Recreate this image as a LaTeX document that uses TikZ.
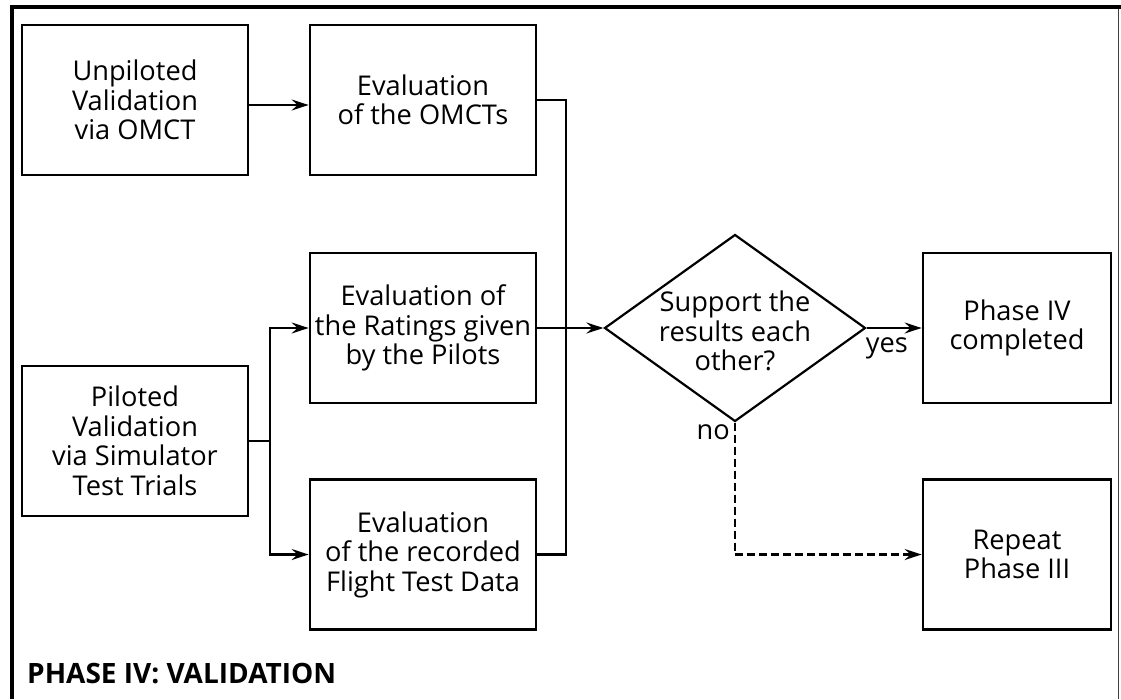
\documentclass[tikz,border=0pt]{standalone}
\usepackage{fontspec}
\setmainfont{Open Sans}
\usetikzlibrary{arrows.meta,shapes.geometric,calc}
\begin{document}
\begin{tikzpicture}[x=1pt,y=-1pt,
  txt/.style={font=\fontsize{27.2}{29.5}\selectfont},
  box/.style={draw,line width=2.8pt,minimum width=226pt,minimum height=150pt,
    inner sep=0pt,align=center,txt},
  rbox/.style={box,minimum width=188pt},
  decision/.style={draw,shape=diamond,line width=2.2pt,minimum width=261pt,
    minimum height=187pt,inner sep=0pt},
  conn/.style={line width=2.3pt,line join=miter},
  arr/.style={conn,-{Stealth[length=17pt,width=11pt,inset=6pt]}},
  lbl/.style={txt,inner sep=0pt}]
  % page and frame
  \useasboundingbox (0,0) rectangle (1121,699);
  \fill[white] (0,0) rectangle (1121,699);
  \draw[line width=4pt,line join=miter] (11.5,699) -- (11.5,7) -- (1121,7);
  \draw[line width=1.2pt,black!75] (1118.5,9) -- (1118.5,699);

  % process boxes
  \node[box] (A) at (135,100) {Unpiloted\\Validation\\via OMCT};
  \node[box] (B) at (423,100) {Evaluation\\of the OMCTs};
  \node[box] (C) at (423,328) {Evaluation of\\the Ratings given\\by the Pilots};
  \node[box] (D) at (135,441) {Piloted\\Validation\\via Simulator\\Test Trials};
  \node[box] (E) at (423,554.5) {Evaluation\\of the recorded\\Flight Test Data};
  \node[rbox] (F) at (1017,328) {Phase IV\\completed};
  \node[rbox] (G) at (1017,554.5) {Repeat\\Phase III};

  % decision
  \node[decision] (Q) at (735,328) {};
  \node[txt,align=center,inner sep=0pt] (Qt) at (735,331) {Support the\\results each\\other?};

  % branch labels
  \node[lbl,anchor=north west] (yes) at ($(Q.east)+(-1,9)$) {yes};
  \node[lbl,anchor=north east] (no) at ($(Q.south)+(-5,2)$) {no};

  % title
  \node[font=\fontsize{28}{30}\selectfont\bfseries,anchor=base west,inner sep=0pt]
    (title) at (27,683) {PHASE IV: VALIDATION};

  % connectors
  \coordinate (bus) at (566,328);
  \coordinate (split) at (270,441);
  \draw[arr] ([yshift=-5pt]A.east) -- ([yshift=-5pt]B.west);
  \draw[conn] (B.east) -| (bus) |- (E.east);
  \draw[arr] (C.east) -- (Q.west);
  \draw[conn] (D.east) -- (split);
  \draw[arr] (split) |- (C.west);
  \draw[arr] (split) |- (E.west);
  \draw[arr] (Q.east) -- (F.west);
  \draw[arr,dash pattern=on 8pt off 4pt] (Q.south) |- (G.west);
\end{tikzpicture}
\end{document}
